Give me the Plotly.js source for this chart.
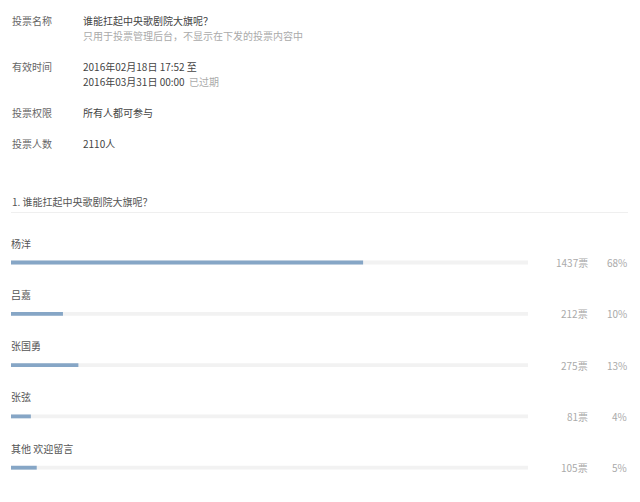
<!DOCTYPE html>
<html>
<head>
<meta charset="utf-8">
<script src="https://cdn.plot.ly/plotly-3.0.1.min.js"></script>
<style>html,body{margin:0;padding:0;background:#fff;}#chart{width:640px;height:502px;}</style>
</head>
<body>
<div id="chart"></div>
<script>
// ---- data ----
const options = ["杨洋", "吕嘉", "张国勇", "张弦", "其他 欢迎留言"];
const votes = [1437, 212, 275, 81, 105];
const totalVoters = 2110;
const question = "1. 谁能扛起中央歌剧院大旗呢？";
const infoLabels = ["投票名称", "有效时间", "投票权限", "投票人数"];
const infoValues = ["谁能扛起中央歌剧院大旗呢？", "2016年02月18日 17:52 至", "所有人都可参与", "2110人"];
const infoNotes = ["只用于投票管理后台，不显示在下发的投票内容中", "2016年03月31日 00:00"];
const expiredTag = "已过期";
const voteUnit = "票";

// ---- layout helpers ----
const W = 640, H = 502;
const plotL = 11, plotR = 528;
const plotW = plotR - plotL;
const FONT = "'Noto Sans CJK SC', 'Microsoft YaHei', sans-serif";
const px = x => (x - plotL) / plotW;      // pixel x -> paper x
const py = y => 1 - y / H;                // pixel y -> paper y

// category axis: first row centre at 262.5 px, step 51.3 px
const row0 = 262.5, step = 51.3;
const yTop = -row0 / step, yBot = (H - row0) / step;

const track = {
  type: "bar", orientation: "h",
  y: options, x: options.map(() => totalVoters),
  width: 0.075, marker: {color: "#f2f2f2"},
  hoverinfo: "skip", showlegend: false
};
const bars = {
  type: "bar", orientation: "h",
  y: options, x: votes,
  width: 0.075, marker: {color: "#86a6c6"},
  hoverinfo: "skip", showlegend: false
};

const ann = [];
function txt(x, y, text, color, anchor) {
  ann.push({xref: "paper", yref: "paper", x: px(x), y: py(y), text: text,
    showarrow: false, xanchor: anchor || "left", yanchor: "middle",
    font: {family: FONT, size: 10, color: color}});
}
// header block
const labelYs = [20.5, 66.5, 112.5, 143.3];
infoLabels.forEach((l, i) => txt(9.5, labelYs[i], l, "#666"));
infoValues.forEach((v, i) => txt(81, labelYs[i], v, "#444"));
txt(81, 35.5, infoNotes[0], "#aaa");
txt(81, 81.5, infoNotes[1] + "  <span style='color:#aaa'>" + expiredTag + "</span>", "#444");
// question
txt(9.5, 201.5, question, "#555");

// option labels & values
options.forEach((o, i) => {
  ann.push({xref: "paper", yref: "y", x: px(9), y: o, yshift: 19.5, text: o,
    showarrow: false, xanchor: "left", yanchor: "middle",
    font: {family: FONT, size: 10, color: "#555"}});
  ann.push({xref: "paper", yref: "y", x: px(589.5), y: o, text: votes[i] + voteUnit,
    showarrow: false, xanchor: "right", yanchor: "middle",
    font: {family: FONT, size: 10, color: "#aaa"}});
  ann.push({xref: "paper", yref: "y", x: px(629), y: o,
    text: Math.round(votes[i] / totalVoters * 100) + "%",
    showarrow: false, xanchor: "right", yanchor: "middle",
    font: {family: FONT, size: 10, color: "#aaa"}});
});

const layout = {
  width: W, height: H,
  margin: {l: plotL, r: W - plotR, t: 0, b: 0, pad: 0},
  paper_bgcolor: "#fff", plot_bgcolor: "#fff",
  barmode: "overlay",
  xaxis: {range: [0, totalVoters], visible: false, fixedrange: true},
  yaxis: {type: "category", categoryarray: options, range: [yBot, yTop],
    visible: false, fixedrange: true},
  annotations: ann,
  shapes: [{type: "line", xref: "paper", yref: "paper",
    x0: px(11), x1: px(628), y0: py(212.5), y1: py(212.5),
    line: {color: "#efefef", width: 1}}],
  font: {family: FONT}
};

Plotly.newPlot("chart", [track, bars], layout, {staticPlot: true, displayModeBar: false});
</script>
</body>
</html>
